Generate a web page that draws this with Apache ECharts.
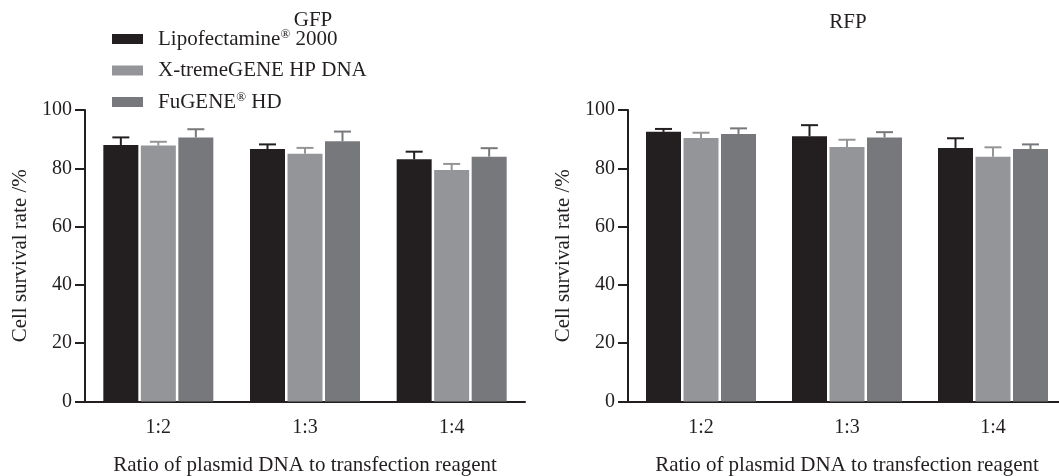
<!DOCTYPE html>
<html>
<head>
<meta charset="utf-8">
<script src="https://cdn.jsdelivr.net/npm/echarts@6/dist/echarts.min.js"></script>
<style>html,body{margin:0;padding:0;background:#fff}#c{width:1059px;height:476px}</style>
</head>
<body>
<div id="c"></div>
<script>
const categories = ['1:2', '1:3', '1:4'];
const reagents = ['Lipofectamine® 2000', 'X-tremeGENE HP DNA', 'FuGENE® HD'];
const panelTitles = ['GFP', 'RFP'];
const yTicks = [0, 20, 40, 60, 80, 100];

const gfpLipo = [88.0, 86.6, 83.1];
const gfpXtreme = [87.8, 85.0, 79.4];
const gfpFugene = [90.6, 89.3, 84.0];
const gfpLipoErr = [2.6, 1.6, 2.6];
const gfpXtremeErr = [1.3, 2.0, 2.1];
const gfpFugeneErr = [2.8, 3.3, 2.9];

const rfpLipo = [92.5, 91.0, 87.0];
const rfpXtreme = [90.4, 87.3, 84.0];
const rfpFugene = [91.8, 90.6, 86.6];
const rfpLipoErr = [1.0, 3.8, 3.3];
const rfpXtremeErr = [1.8, 2.5, 3.2];
const rfpFugeneErr = [1.9, 1.8, 1.6];

const colors = ['#231f20', '#949598', '#77787b'];
const FONT = 'Liberation Serif';
const TXT = '#231f20';
const BAR_W = 35;
const BAR_GAP_PX = 2.5;

const panels = [
  {vals: [gfpLipo, gfpXtreme, gfpFugene], errs: [gfpLipoErr, gfpXtremeErr, gfpFugeneErr]},
  {vals: [rfpLipo, rfpXtreme, rfpFugene], errs: [rfpLipoErr, rfpXtremeErr, rfpFugeneErr]}
];

const grids = [
  {left: 85, top: 110, width: 440, height: 291.5, outerBoundsMode: 'none', containLabel: false},
  {left: 628, top: 110, width: 438, height: 291.5, outerBoundsMode: 'none', containLabel: false}
];

const xAxes = grids.map((g, i) => ({
  type: 'category', gridIndex: i, data: categories,
  name: 'Ratio of plasmid DNA to transfection reagent',
  nameLocation: 'middle', nameGap: 53,
  nameTextStyle: {fontFamily: FONT, fontSize: 21, color: TXT},
  axisLine: {lineStyle: {color: TXT, width: 2}},
  axisTick: {alignWithLabel: true, length: 10, lineStyle: {color: TXT, width: 2}},
  axisLabel: {fontFamily: FONT, fontSize: 20, color: TXT, margin: 16}
}));

const yAxes = grids.map((g, i) => ({
  type: 'value', gridIndex: i, min: yTicks[0], max: yTicks[yTicks.length - 1], interval: 20,
  name: 'Cell survival rate /%', nameLocation: 'middle', nameGap: 54,
  nameTextStyle: {fontFamily: FONT, fontSize: 21, color: TXT},
  axisLine: {show: true, lineStyle: {color: TXT, width: 2}},
  axisTick: {show: true, length: 10, lineStyle: {color: TXT, width: 2}},
  axisLabel: {fontFamily: FONT, fontSize: 20, color: TXT, margin: 13},
  splitLine: {show: false}
}));

const series = [];
panels.forEach((p, gi) => {
  reagents.forEach((name, si) => {
    series.push({
      type: 'bar', name: name, xAxisIndex: gi, yAxisIndex: gi,
      data: p.vals[si], barWidth: BAR_W, barGap: (BAR_GAP_PX / BAR_W * 100) + '%',
      itemStyle: {color: colors[si]}, z: 2
    });
  });
  reagents.forEach((name, si) => {
    const off = (si - 1) * (BAR_W + BAR_GAP_PX);
    series.push({
      type: 'custom', name: 'err' + gi + si, xAxisIndex: gi, yAxisIndex: gi, z: 3,
      data: p.vals[si].map((v, k) => [k, v, p.errs[si][k]]),
      renderItem: function (params, api) {
        const base = api.coord([api.value(0), api.value(1)]);
        const top = api.coord([api.value(0), api.value(1) + api.value(2)]);
        const x = base[0] + off;
        const st = {stroke: colors[si], lineWidth: 2};
        return {type: 'group', children: [
          {type: 'line', shape: {x1: x, y1: base[1], x2: x, y2: top[1]}, style: st},
          {type: 'line', shape: {x1: x - 8.5, y1: top[1], x2: x + 8.5, y2: top[1]}, style: st}
        ]};
      }
    });
  });
});

const chart = echarts.init(document.getElementById('c'), null, {renderer: 'canvas'});
chart.setOption({
  animation: false,
  backgroundColor: '#fff',
  title: [
    {text: panelTitles[0], left: 313, top: 10, padding: 0, textAlign: 'center',
     textStyle: {fontFamily: FONT, fontSize: 21, fontWeight: 'normal', color: TXT}},
    {text: panelTitles[1], left: 848, top: 12, padding: 0, textAlign: 'center',
     textStyle: {fontFamily: FONT, fontSize: 21, fontWeight: 'normal', color: TXT}}
  ],
  legend: {
    data: reagents, orient: 'vertical', left: 112, top: 28, padding: 0,
    itemWidth: 31, itemHeight: 10, itemGap: 10, icon: 'rect',
    selectedMode: false,
    formatter: function (n) {
      return n.split('®').map(s => '{t|' + s + '}').join('{s|®}');
    },
    textStyle: {fontFamily: FONT, fontSize: 21, color: TXT, lineHeight: 20, padding: [0, 0, 0, 10],
      rich: {
        t: {fontFamily: FONT, fontSize: 21, color: TXT, lineHeight: 20},
        s: {fontFamily: FONT, fontSize: 13, color: TXT, lineHeight: 20, padding: [0, 0, 9, 0]}
      }}
  },
  grid: grids,
  xAxis: xAxes,
  yAxis: yAxes,
  series: series
});
</script>
</body>
</html>
